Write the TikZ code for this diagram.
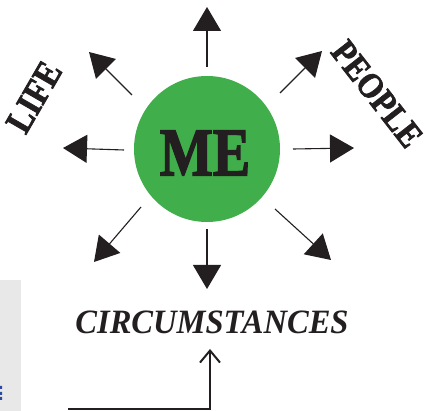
\documentclass[tikz,border=0pt]{standalone}
\usepackage{fontspec}
\newfontfamily\fatfam{Liberation Serif}[BoldFeatures={FakeBold=2.2}]
\newcommand{\fat}{\fatfam\bfseries}
\newcommand{\fatit}{\fatfam\bfseries\itshape}
\usetikzlibrary{arrows.meta}
\definecolor{ink}{HTML}{231F20}
\definecolor{megreen}{HTML}{40AE4A}
\definecolor{panel}{HTML}{E8E8E8}
\definecolor{markblue}{HTML}{2B4AA0}
\begin{document}
\begin{tikzpicture}[x=1pt,y=-1pt,
  ray/.style={draw=ink, line width=1.1pt, -{Triangle[length=24pt,width=28pt]}},
  feed/.style={draw=ink, line width=2pt, -{Straight Barb[length=12pt,width=20pt,line width=2pt]}},
  word/.style={text=ink, inner sep=0pt}]
\useasboundingbox (0,0) rectangle (431,411);
\fill[panel] (0,280) rectangle (21,411);
\fill[markblue] (0,386) rectangle (2,389) (0,392) rectangle (2,395) (0,397) rectangle (2,400);

\node[circle, fill=megreen, minimum size=146pt, inner sep=0pt] (me) at (207,149) {};
\node[word, xscale=0.85, yscale=1.03] (metext) at (205,153) {\fontsize{66}{66}\fat ME};

\coordinate (s1) at (207,67);  \coordinate (t1) at (207,7);
\coordinate (s2) at (132,95);  \coordinate (t2) at (89,52);
\coordinate (s3) at (280,93);  \coordinate (t3) at (322,51);
\coordinate (s4) at (124,150); \coordinate (t4) at (63,148);
\coordinate (s5) at (293,149); \coordinate (t5) at (354,148);
\coordinate (s6) at (141,207); \coordinate (t6) at (94,262);
\coordinate (s7) at (207,229); \coordinate (t7) at (207,289);
\coordinate (s8) at (275,209); \coordinate (t8) at (331,260);
\foreach \i in {1,...,8} {\draw[ray] (s\i) -- (t\i);}

\node[word, rotate=60, yscale=1.15] (life) at (34,97) {\fontsize{32}{32}\fat LIFE};
\node[word, rotate=-52, yscale=1.15] (people) at (377,94) {\fontsize{31}{31}\fat PEOPLE};
\node[word, xscale=1.05, yscale=1.1] (circ) at (212,322) {\fontsize{31}{31}\fatit CIRCUMSTANCES};

\coordinate (fb) at (68,409);
\coordinate (ft) at (210,349);
\draw[feed] (fb) -| (ft);
\end{tikzpicture}
\end{document}
